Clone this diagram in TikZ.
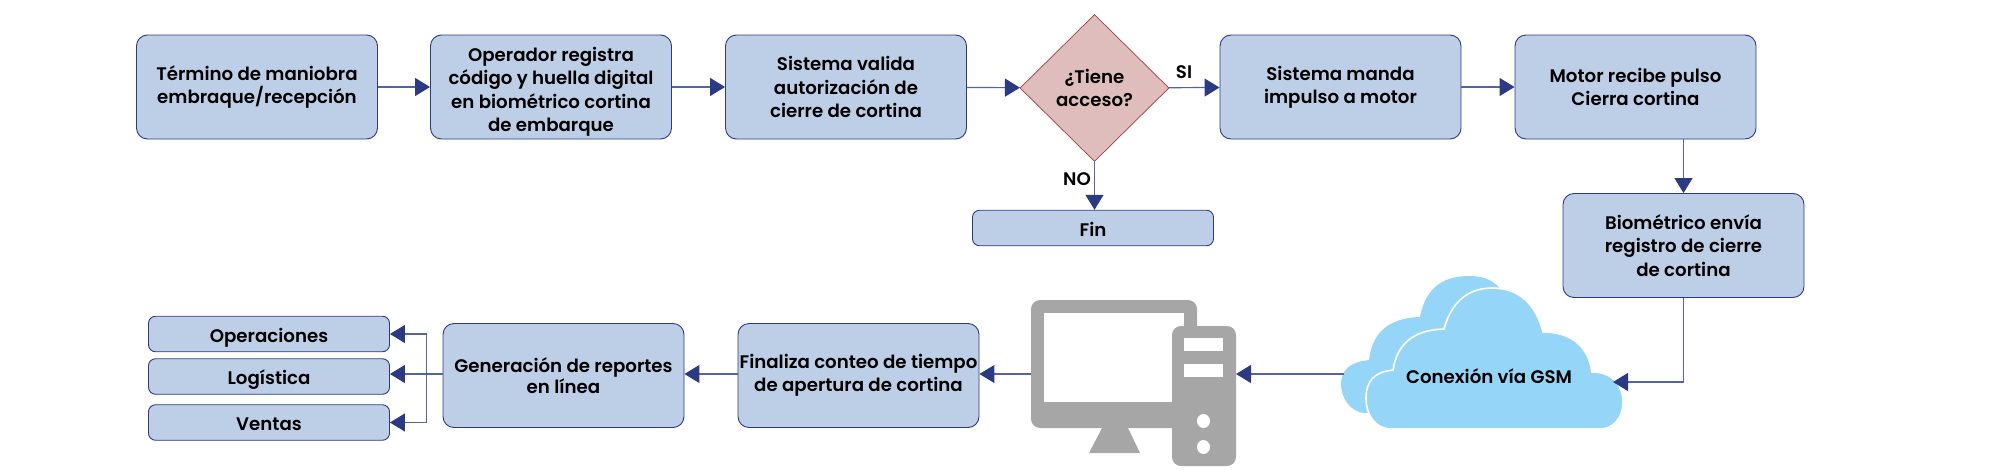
\documentclass[tikz,border=0pt]{standalone}
\usepackage{fontspec}
\setmainfont{Poppins}[UprightFont=* SemiBold]
\usetikzlibrary{arrows.meta,shapes.geometric}
\definecolor{boxfill}{HTML}{BDCFE6}
\definecolor{boxline}{HTML}{2B3A85}
\definecolor{linkline}{HTML}{5563A5}
\definecolor{decfill}{HTML}{E0BDBD}
\definecolor{decline}{HTML}{A63A3F}
\definecolor{pcgray}{HTML}{A6A6A6}
\definecolor{cloudblue}{HTML}{95D5F8}
\tikzset{
    flow text/.style={
        font=\fontsize{18.2}{23.2}\selectfont,
        align=center,
        text=black
    },
    process/.style={
        flow text,
        draw=boxline,
        fill=boxfill,
        line width=0.9pt,
        rounded corners=11pt,
        inner sep=0pt,
        minimum width=241pt,
        minimum height=104pt
    },
    small process/.style={
        process,
        minimum height=35.5pt,
        text height=19pt,
        text depth=3pt,
        rounded corners=7pt
    },
    decision/.style={
        flow text,
        diamond,
        draw=decline,
        fill=decfill,
        line width=0.7pt,
        inner sep=0pt,
        minimum width=149pt,
        minimum height=147pt
    },
    link/.style={
        draw=linkline,
        line width=1.2pt,
        -{Triangle[length=15pt,width=18pt,fill=boxline,color=boxline]}
    }
}
\begin{document}
\begin{tikzpicture}[x=1pt,y=-1pt]
            \useasboundingbox (0,0) rectangle (2000,474);
            \node[process] (termino) at (257,87) {Término de maniobra\\embraque/recepción};
            \node[process] (operador) at (551,87) {\rule{0pt}{24pt}Operador registra\\código y huella digital\\en biométrico cortina\\de embarque};
            \node[process] (valida) at (846,87) {Sistema valida\\autorización de\\cierre de cortina};
            \node[decision] (acceso) at (1094.5,88) {¿Tiene\\acceso?};
            \node[process] (impulso) at (1340.5,87) {Sistema manda\\impulso a motor};
            \node[process] (motor) at (1635.5,87) {Motor recibe pulso\\Cierra cortina};
            \node[small process] (fin) at (1093,228) {Fin};
            \node[process] (biometrico) at (1683.5,245.5) {Biométrico envía\\registro de cierre\\de cortina};
            \node[flow text] (si) at (1184,72) {SI};
            \node[flow text] (no) at (1077,179) {NO};

            \fill[cloudblue] (1366,413) .. controls (1350,413) and (1341,397) .. (1341,384)
                .. controls (1341,370) and (1350,362) .. (1369,360)
                .. controls (1372,335) and (1386,318) .. (1420,317)
                .. controls (1426,285) and (1446,276) .. (1469,276)
                .. controls (1482,276) and (1490,279) .. (1498,286)
                -- (1560,400) -- (1366,413) -- cycle;
            \draw[white,line width=1.6pt,fill=cloudblue] (1391,429)
                .. controls (1375,429) and (1366,414) .. (1366,399)
                .. controls (1366,381) and (1374,372) .. (1393,370)
                .. controls (1397,345) and (1412,330) .. (1444,329)
                .. controls (1452,300) and (1470,288) .. (1492,288)
                .. controls (1520,288) and (1536,305) .. (1543,332)
                .. controls (1570,332) and (1588,345) .. (1592,372)
                .. controls (1614,372) and (1623,387) .. (1623,402)
                .. controls (1623,417) and (1614,429) .. (1600,429) -- cycle;
            \node[flow text] (gsm) at (1489,376) {Conexión vía GSM};

            \fill[pcgray,rounded corners=9pt] (1031,300) rectangle (1197,428);
            \fill[pcgray] (1102,428) -- (1128,428) -- (1140,453) -- (1089,453) -- cycle;
            \fill[white] (1044,313) rectangle (1184,402);
            \fill[pcgray,rounded corners=9pt] (1172,326) rectangle (1236,466);
            \fill[white] (1184,338) rectangle (1223,351);
            \fill[white] (1184,364) rectangle (1223,377);
            \fill[white] (1203.5,421) ellipse [x radius=6.5pt,y radius=7pt];
            \fill[white] (1203.5,447) ellipse [x radius=6.5pt,y radius=7pt];
            \coordinate (pcleft) at (1031,374);
            \coordinate (pcright) at (1236,374);
            \coordinate (cloudleft) at (1344,374);
            \coordinate (cloudright) at (1613,382);

            \node[process] (finaliza) at (858.5,375.5) {Finaliza conteo de tiempo\\de apertura de cortina};
            \node[process] (reportes) at (563.5,375.5) {Generación de reportes\\[-1.5pt]en línea};
            \node[small process] (operaciones) at (269,334) {Operaciones};
            \node[small process] (logistica) at (269,376.5) {Logística};
            \node[small process] (ventas) at (269,422.5) {Ventas};
            \coordinate (bus) at (426.5,374);

            \draw[link] (termino) -- (operador);
            \draw[link] (operador) -- (valida);
            \draw[link] (valida) -- (acceso);
            \draw[link] (acceso) -- (impulso);
            \draw[link] (impulso) -- (motor);
            \draw[link] (acceso) -- (acceso.south |- fin.north);
            \draw[link] (motor.south -| biometrico) -- (biometrico);
            \draw[link] (biometrico) |- (cloudright);
            \draw[link] (cloudleft) -- (pcright);
            \draw[link] (pcleft) -- (finaliza.east |- pcleft);
            \draw[link] (finaliza.west |- bus) -- (reportes.east |- bus);
            \draw[link] (reportes.west |- bus) -- (logistica.east |- bus);
            \draw[link] (bus) |- (operaciones);
            \draw[link] (bus) |- (ventas);
        \end{tikzpicture}
\end{document}
